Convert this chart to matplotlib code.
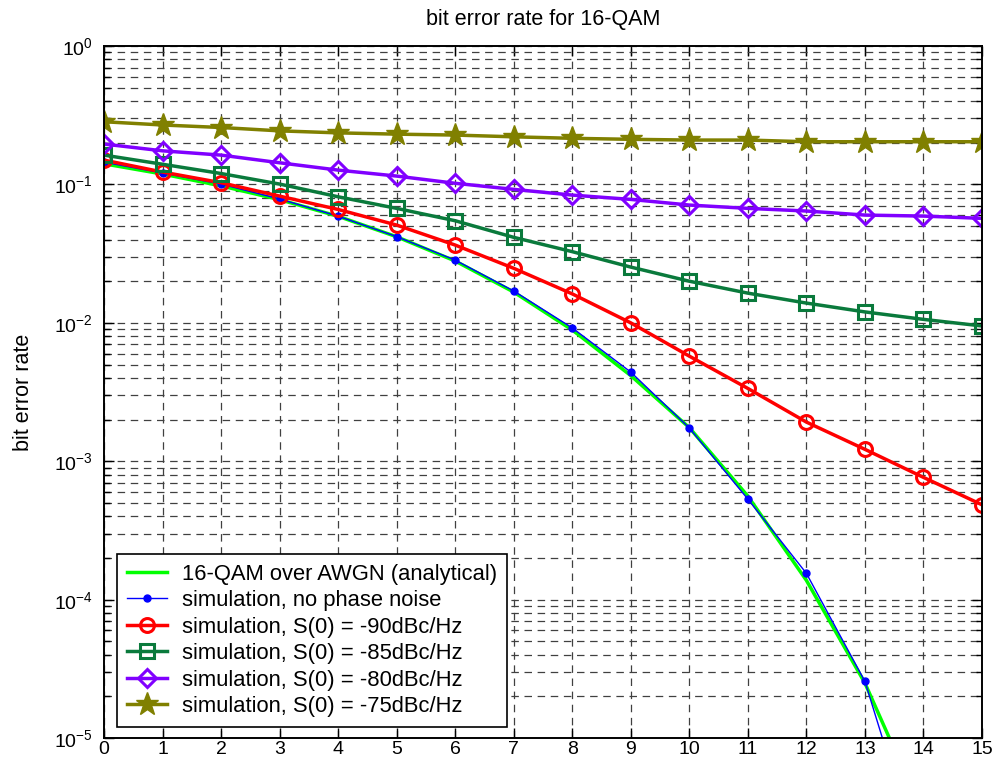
import numpy as np
import matplotlib
matplotlib.use("Agg")
import matplotlib.pyplot as plt

plt.rcParams['font.family'] = ['Liberation Sans', 'DejaVu Sans']
plt.rcParams['mathtext.default'] = 'regular'

# SNR axis (dB)
snr = list(range(0, 16))

# analytical 16-QAM over AWGN
ber_theory = [0.141, 0.119, 0.0977, 0.0777, 0.0589, 0.0419, 0.0280, 0.0167,
              0.00889, 0.00416, 0.00175, 5.6e-4, 1.38e-4, 2.5e-5, 2.8e-6, 2.1e-7]

# simulation, no phase noise (last point lies below the visible range)
snr_nopn = list(range(0, 15))
ber_nopn = [0.145, 0.121, 0.1007, 0.0785, 0.059, 0.042, 0.0284, 0.017,
            0.0092, 0.00441, 0.00174, 5.33e-4, 1.55e-4, 2.57e-5, 1.1e-6]

ber_90 = [0.150, 0.123, 0.103, 0.0824, 0.066, 0.0509, 0.0365, 0.0248,
          0.0162, 0.0100, 0.00575, 0.00336, 0.00192, 0.00122, 7.65e-4, 4.85e-4]
ber_85 = [0.163, 0.140, 0.120, 0.1007, 0.0815, 0.0672, 0.0547, 0.0415,
          0.0327, 0.0253, 0.0200, 0.0164, 0.0139, 0.0120, 0.0106, 0.0095]
ber_80 = [0.196, 0.175, 0.163, 0.1435, 0.127, 0.115, 0.102, 0.0922,
          0.0838, 0.078, 0.071, 0.0672, 0.0643, 0.0601, 0.0591, 0.0569]
ber_75 = [0.284, 0.269, 0.258, 0.244, 0.236, 0.231, 0.2275, 0.221,
          0.2155, 0.212, 0.2094, 0.2094, 0.2036, 0.2036, 0.2036, 0.2036]

labels = ['16-QAM over AWGN (analytical)',
          'simulation, no phase noise',
          'simulation, S(0) = -90dBc/Hz',
          'simulation, S(0) = -85dBc/Hz',
          'simulation, S(0) = -80dBc/Hz',
          'simulation, S(0) = -75dBc/Hz']

fig = plt.figure(figsize=(9.97, 7.68), dpi=100)
ax = fig.add_axes([0.1043, 0.039, 0.8806, 0.901])

ax.semilogy(snr, ber_theory, color='#00ff00', lw=2.5, label=labels[0])
ax.semilogy(snr_nopn, ber_nopn, color='#0000ff', lw=1, marker='o', ms=5,
            label=labels[1])
ax.semilogy(snr, ber_90, color='#ff0000', lw=2.5, marker='o', ms=10,
            mfc='none', mew=2.2, label=labels[2])
ax.semilogy(snr, ber_85, color='#0a7a3c', lw=2.5, marker='s', ms=10,
            mfc='none', mew=2.2, label=labels[3])
ax.semilogy(snr, ber_80, color='#8000ff', lw=2.5, marker='D', ms=9,
            mfc='none', mew=2.2, label=labels[4])
ax.semilogy(snr, ber_75, color='#808000', lw=2.5, marker='*', ms=17,
            label=labels[5])

ax.set_xlim(0, 15)
ax.set_ylim(1e-5, 1)
ax.set_xticks(snr)
dash = (0, (6, 4.5))
ax.grid(True, which='major', color='0.25', ls=dash, lw=0.9)
ax.grid(True, which='minor', axis='y', color='0.25', ls=dash, lw=0.9)
ax.tick_params(which='both', direction='in', top=True, right=True,
               labelsize=14, width=1)
ax.tick_params(which='major', length=7)
ax.tick_params(which='minor', length=4)
ax.tick_params(axis='x', pad=2)
ax.tick_params(axis='y', pad=8)
for s in ax.spines.values():
    s.set_linewidth(1.4)

ax.set_title('bit error rate for 16-QAM', fontsize=15.5, pad=15)
ax.set_ylabel('bit error rate', fontsize=15.5, labelpad=14)

leg = ax.legend(loc='lower left', bbox_to_anchor=(0.015, 0.016),
                borderaxespad=0, fontsize=15.8, fancybox=False, framealpha=1,
                edgecolor='black', handlelength=1.8, handletextpad=0.7,
                labelspacing=0.25, borderpad=0.45)
leg.get_frame().set_linewidth(1.2)

fig.savefig('out.png', dpi=100)
